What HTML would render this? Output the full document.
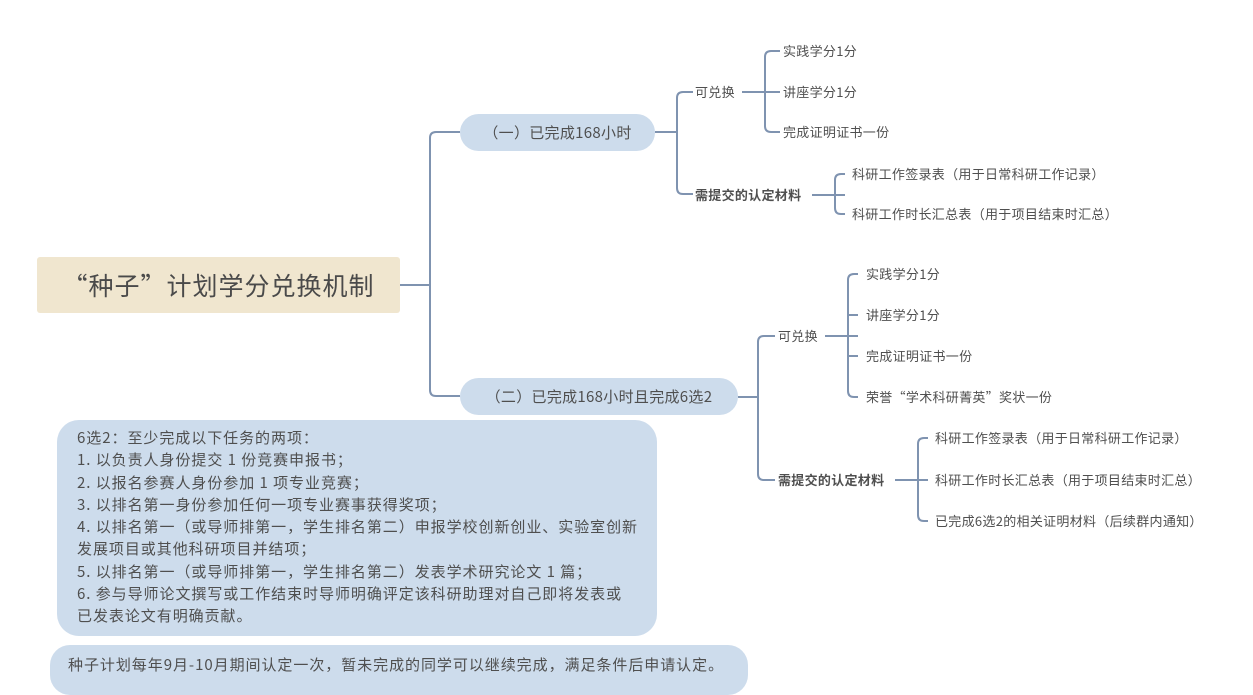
<!DOCTYPE html>
<html><head><meta charset="utf-8"><style>
body{margin:0;width:1253px;height:681px;overflow:hidden;background:#fff;position:relative;font-family:"Noto Sans CJK SC","Liberation Sans",sans-serif;color:#4f4f4f}
.t{position:absolute;white-space:nowrap;font-size:13px;line-height:16px;transform:translateY(-50%);letter-spacing:0.3px}
.b{font-weight:bold}
.pill{position:absolute;background:#cddcec;border-radius:19px;font-size:15px;display:flex;align-items:center;justify-content:center;letter-spacing:0.3px}
svg{position:absolute;left:0;top:0}
</style></head><body>
<svg width="1253" height="681" fill="none" stroke="#7f93b0" stroke-width="2">
<path d="M400,285H430"/>
<path d="M460,132H436Q430,132 430,138V390Q430,396 436,396H460"/>
<path d="M655,132H677"/>
<path d="M693,92H683Q677,92 677,98V188Q677,194 683,194H693"/>
<path d="M742,92H780"/>
<path d="M780,51H771Q765,51 765,57V126Q765,132 771,132H780"/>
<path d="M812,195H845"/>
<path d="M845,174H841Q835,174 835,180V208Q835,214 841,214H845"/>
<path d="M738,397H758"/>
<path d="M775,336H764Q758,336 758,342V474Q758,480 764,480H775"/>
<path d="M825,336H858"/>
<path d="M858,274H854Q848,274 848,280V391Q848,397 854,397H858"/>
<path d="M848,315H858M848,356H858"/>
<path d="M895,480H928"/>
<path d="M928,438H924Q918,438 918,444V515Q918,521 924,521H928"/>
</svg>
<div style="position:absolute;left:37px;top:257px;width:363px;height:56px;background:#f0e6cf;border-radius:3px;display:flex;align-items:center;justify-content:center;font-size:25px;letter-spacing:1px;color:#4a4a4a">“种子”计划学分兑换机制</div>
<div class="pill" style="left:460px;top:114px;width:195px;height:37px">（一）已完成168小时</div>
<div class="pill" style="left:460px;top:378px;width:278px;height:37px">（二）已完成168小时且完成6选2</div>
<div class="t" style="left:695px;top:92px">可兑换</div>
<div class="t b" style="left:695px;top:195px">需提交的认定材料</div>
<div class="t" style="left:783px;top:51px">实践学分1分</div>
<div class="t" style="left:783px;top:92px">讲座学分1分</div>
<div class="t" style="left:783px;top:132px">完成证明证书一份</div>
<div class="t" style="left:852px;top:174px">科研工作签录表（用于日常科研工作记录）</div>
<div class="t" style="left:852px;top:214px">科研工作时长汇总表（用于项目结束时汇总）</div>
<div class="t" style="left:778px;top:336px">可兑换</div>
<div class="t b" style="left:778px;top:480px">需提交的认定材料</div>
<div class="t" style="left:866px;top:274px">实践学分1分</div>
<div class="t" style="left:866px;top:315px">讲座学分1分</div>
<div class="t" style="left:866px;top:356px">完成证明证书一份</div>
<div class="t" style="left:866px;top:397px">荣誉“学术科研菁英”奖状一份</div>
<div class="t" style="left:935px;top:438px">科研工作签录表（用于日常科研工作记录）</div>
<div class="t" style="left:935px;top:480px">科研工作时长汇总表（用于项目结束时汇总）</div>
<div class="t" style="left:935px;top:521px">已完成6选2的相关证明材料（后续群内通知）</div>
<div style="position:absolute;left:57px;top:420px;width:560px;height:200px;padding:7px 20px 9px 20px;background:#cddcec;border-radius:22px;font-size:15px;line-height:22.3px;white-space:nowrap;letter-spacing:0.95px">6选2：至少完成以下任务的两项：<br>1. 以负责人身份提交 1 份竞赛申报书；<br>2. 以报名参赛人身份参加 1 项专业竞赛；<br>3. 以排名第一身份参加任何一项专业赛事获得奖项；<br>4. 以排名第一（或导师排第一，学生排名第二）申报学校创新创业、实验室创新<br>发展项目或其他科研项目并结项；<br>5. 以排名第一（或导师排第一，学生排名第二）发表学术研究论文 1 篇；<br>6. 参与导师论文撰写或工作结束时导师明确评定该科研助理对自己即将发表或<br>已发表论文有明确贡献。</div>
<div style="position:absolute;left:50px;top:645px;width:680px;height:50px;padding-left:18px;background:#cddcec;border-radius:20px;font-size:15px;line-height:40px;white-space:nowrap;letter-spacing:0.95px">种子计划每年9月-10月期间认定一次，暂未完成的同学可以继续完成，满足条件后申请认定。</div>
</body></html>
